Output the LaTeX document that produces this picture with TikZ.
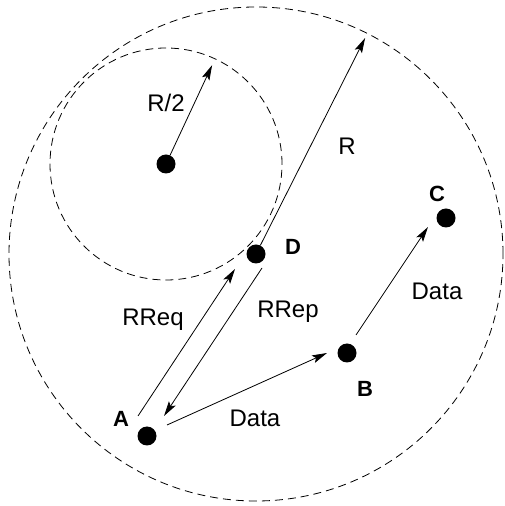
\documentclass[tikz,border=0pt]{standalone}
\usepackage{fontspec}
\setmainfont{Liberation Sans}
\usetikzlibrary{arrows.meta}

\begin{document}
\begin{tikzpicture}[x=1pt,y=1pt,
    dot/.style={circle,fill=black,inner sep=0pt,minimum size=19pt},
    radioline/.style={dash pattern=on 8pt off 5pt,line width=0.8pt},
    msg/.style={line width=0.8pt,-{Stealth[length=15pt,width=8pt,inset=3pt]}},
    lbl/.style={anchor=base,inner sep=0pt,font=\fontsize{24}{28}\selectfont},
    tag/.style={anchor=base,inner sep=0pt,font=\fontsize{22}{26}\selectfont\bfseries}]

        \useasboundingbox (0,0) rectangle (505,506);

        % Nodes
        \node[dot] (M) at (166,342) {};
        \node[dot] (D) at (256,252) {};
        \node[dot] (A) at (147,70) {};
        \node[dot] (B) at (347,153) {};
        \node[dot] (C) at (446,288) {};

        % Transmission ranges
        \draw[radioline] (D) circle (247);
        \draw[radioline] (M) circle (116);

        % Radii
        \path (M) ++(65:109) coordinate (halftip);
        \draw[msg] (M) -- (halftip);
        \node[lbl] (halflbl) at (166,394) {R/2};

        \path (D) ++(63.2:242) coordinate (fulltip);
        \draw[msg] (D) -- (fulltip);
        \node[lbl] (fulllbl) at (347,351) {R};

        % Route request and reply
        \draw[msg] ([shift={(-9,20)}]A.center) -- ([shift={(-21,-15)}]D.center);
        \node[lbl] (rreq) at (153,180) {RReq};
        \draw[msg] ([shift={(6,-14)}]D.center) -- ([shift={(17,20)}]A.center);
        \node[lbl] (rrep) at (288,188) {RRep};

        % Data
        \draw[msg] ([shift={(20,11)}]A.center) -- ([shift={(-20,0)}]B.center);
        \node[lbl] (data1) at (255,79) {Data};
        \draw[msg] ([shift={(9,18)}]B.center) -- ([shift={(-18,-9)}]C.center);
        \node[lbl] (data2) at (437,206) {Data};

        % Names
        \node[tag] (nA) at (121,79) {A};
        \node[tag] (nB) at (365,109) {B};
        \node[tag] (nC) at (437,304) {C};
        \node[tag] (nD) at (293,251) {D};

    \end{tikzpicture}
\end{document}
